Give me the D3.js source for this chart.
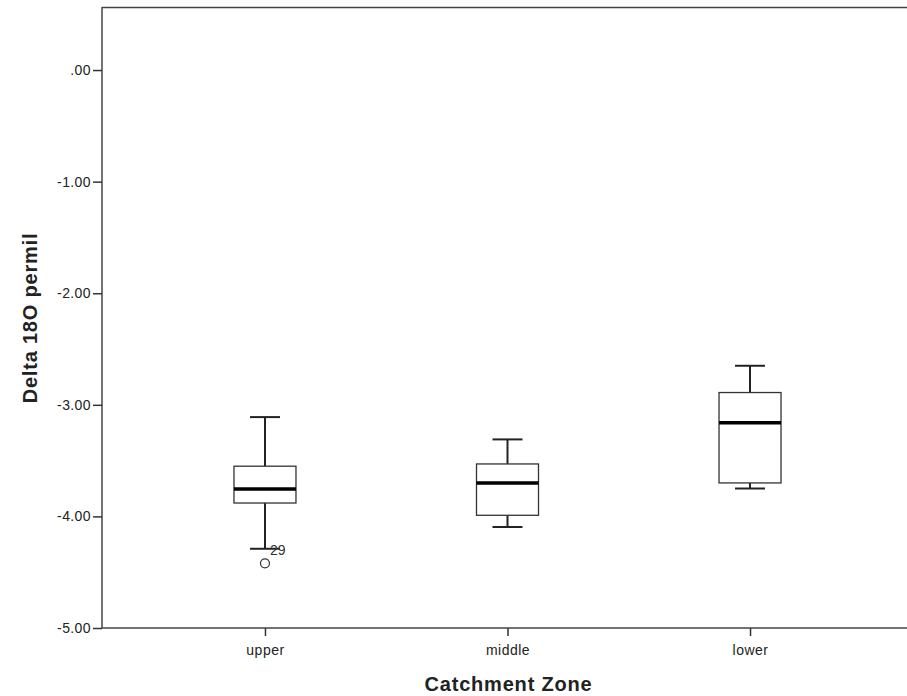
<!DOCTYPE html>
<html>
<head>
<meta charset="utf-8">
<script src="https://cdn.jsdelivr.net/npm/d3@7"></script>
<style>
  body { margin: 0; background: #fff; }
  text { font-family: Arial, "Liberation Sans", sans-serif; }
</style>
</head>
<body>
<svg id="chart" width="907" height="696"></svg>
<script>
const zones = ["upper", "middle", "lower"];
const whiskerHigh = [-3.11, -3.31, -2.65];
const q3 = [-3.55, -3.53, -2.89];
const medians = [-3.755, -3.70, -3.16];
const q1 = [-3.88, -3.99, -3.70];
const whiskerLow = [-4.29, -4.095, -3.75];
const outliers = [{ zone: "upper", value: -4.42, label: "29" }];
const yTicks = [0, -1, -2, -3, -4, -5];

const svg = d3.select("#chart"),
  margin = { top: 7, right: -6, bottom: 68, left: 102 },
  width = +svg.attr("width"),
  height = +svg.attr("height");

const x = d3.scalePoint().domain(zones)
  .range([margin.left, width - margin.right]).padding(0.672);
const y = d3.scaleLinear().domain([-5, 0.565])
  .range([height - margin.bottom, margin.top]);

const boxes = zones.map((z, i) => ({
  zone: z, hi: whiskerHigh[i], q3: q3[i], med: medians[i], q1: q1[i], lo: whiskerLow[i]
}));

const boxW = 62, capW = 30;
const g = svg.append("g");

const fmt = d => d === 0 ? ".00" : d3.format(".2f")(d).replace("\u2212", "-");

// y axis
const yAxis = svg.append("g")
  .attr("transform", `translate(${margin.left},0)`)
  .call(d3.axisLeft(y).tickValues(yTicks).tickSize(9).tickPadding(2).tickFormat(fmt));
yAxis.select(".domain").remove();
yAxis.selectAll(".tick line").attr("stroke", "#333").attr("stroke-width", 1.5);
yAxis.selectAll("text").attr("font-size", "14px").attr("letter-spacing", "0.4px").attr("fill", "#222");

// x axis
const xAxis = svg.append("g")
  .attr("transform", `translate(0,${y(-5)})`)
  .call(d3.axisBottom(x).tickSize(8).tickPadding(9));
xAxis.select(".domain").remove();
xAxis.selectAll(".tick line").attr("stroke", "#333").attr("stroke-width", 1.5);
xAxis.selectAll("text").attr("font-size", "14px").attr("letter-spacing", "0.5px").attr("fill", "#222");

// frame: top, left, bottom lines
g.append("line").attr("x1", margin.left).attr("x2", width)
  .attr("y1", margin.top + 0.5).attr("y2", margin.top + 0.5)
  .attr("stroke", "#444").attr("stroke-width", 1.5);
g.append("line").attr("x1", margin.left).attr("x2", margin.left)
  .attr("y1", margin.top).attr("y2", y(-5))
  .attr("stroke", "#444").attr("stroke-width", 1.5);
g.append("line").attr("x1", margin.left).attr("x2", width)
  .attr("y1", y(-5)).attr("y2", y(-5))
  .attr("stroke", "#444").attr("stroke-width", 1.5);

// boxplots
const bg = g.selectAll(".box").data(boxes).join("g").attr("class", "box");

bg.append("line")
  .attr("x1", d => x(d.zone)).attr("x2", d => x(d.zone))
  .attr("y1", d => y(d.hi)).attr("y2", d => y(d.q3))
  .attr("stroke", "#222").attr("stroke-width", 2);
bg.append("line")
  .attr("x1", d => x(d.zone)).attr("x2", d => x(d.zone))
  .attr("y1", d => y(d.q1)).attr("y2", d => y(d.lo))
  .attr("stroke", "#222").attr("stroke-width", 2);
bg.append("line")
  .attr("x1", d => x(d.zone) - capW / 2).attr("x2", d => x(d.zone) + capW / 2)
  .attr("y1", d => y(d.hi)).attr("y2", d => y(d.hi))
  .attr("stroke", "#222").attr("stroke-width", 2);
bg.append("line")
  .attr("x1", d => x(d.zone) - capW / 2).attr("x2", d => x(d.zone) + capW / 2)
  .attr("y1", d => y(d.lo)).attr("y2", d => y(d.lo))
  .attr("stroke", "#222").attr("stroke-width", 2);
bg.append("rect")
  .attr("x", d => x(d.zone) - boxW / 2).attr("width", boxW)
  .attr("y", d => y(d.q3)).attr("height", d => y(d.q1) - y(d.q3))
  .attr("fill", "#fff").attr("stroke", "#333").attr("stroke-width", 1.3);
bg.append("line")
  .attr("x1", d => x(d.zone) - boxW / 2).attr("x2", d => x(d.zone) + boxW / 2)
  .attr("y1", d => y(d.med)).attr("y2", d => y(d.med))
  .attr("stroke", "#000").attr("stroke-width", 3.5);

// outliers
const og = g.selectAll(".outlier").data(outliers).join("g").attr("class", "outlier");
og.append("circle")
  .attr("cx", d => x(d.zone)).attr("cy", d => y(d.value)).attr("r", 4.5)
  .attr("fill", "none").attr("stroke", "#333").attr("stroke-width", 1.2);
og.append("text")
  .attr("x", d => x(d.zone) + 5).attr("y", d => y(d.value) - 8)
  .attr("font-size", "14px").attr("fill", "#333")
  .text(d => d.label);

// titles
svg.append("text")
  .attr("x", x("middle") + 1).attr("y", 691)
  .attr("text-anchor", "middle").attr("font-size", "20px").attr("font-weight", "bold")
  .attr("letter-spacing", "0.8px")
  .attr("fill", "#222").text("Catchment Zone");
svg.append("text")
  .attr("transform", "translate(37,318) rotate(-90)")
  .attr("text-anchor", "middle").attr("font-size", "20px").attr("font-weight", "bold")
  .attr("letter-spacing", "0.8px")
  .attr("fill", "#222").text("Delta 18O permil");
</script>
</body>
</html>
